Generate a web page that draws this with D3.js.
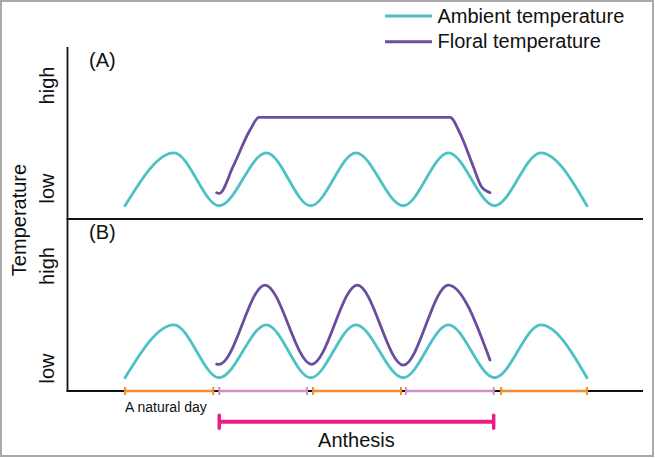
<!DOCTYPE html>
<html><head><meta charset="utf-8">
<script src="https://cdn.jsdelivr.net/npm/d3@7"></script>
<style>body{margin:0;background:#fff}svg{display:block}text{font-family:"Liberation Sans",Arial,sans-serif;fill:#111}</style>
</head><body><svg id="c" width="655" height="458"></svg>
<script>
// ---- data (time in days, temperature in arbitrary units 0-10) ----
const ambientT = [0, 0.53, 1.02, 1.53, 2.01, 2.5, 3.01, 3.5, 4.0, 4.5, 5.0];
const ambientV = [0.77, 3.85, 0.77, 3.85, 0.77, 3.85, 0.77, 3.85, 0.77, 3.85, 0.77];
const floralAT = [0.992, 1.02, 1.169, 1.353, 1.45, 3.517, 3.626, 3.77, 3.86, 3.95];
const floralAV = [1.53, 1.49, 3.04, 5.17, 5.91, 5.91, 4.98, 3.04, 1.86, 1.53];
const floralBT = [0.992, 1.02, 1.515, 2.02, 2.514, 3.012, 3.5, 3.95];
const floralBV = [1.56, 1.55, 6.16, 1.55, 6.16, 1.51, 6.16, 1.8];
const segStart = [0, 1.02, 2.035, 3.04, 4.07];
const segEnd   = [0.955, 1.97, 2.987, 3.99, 5.0];
const segType  = ["day", "anthesis", "day", "anthesis", "day"];
const anthesis = [1.02, 3.99];
const panels = ["(A)", "(B)"];
const yLabels = ["high", "low"];
const legendLabels = ["Ambient temperature", "Floral temperature"];

const COL = {amb:"#4cc2c5", flo:"#6b4d9e", day:"#f28c2e", anth:"#d48fc9", bar:"#ec1c84"};
const svg = d3.select("#c");

// frame
svg.append("rect").attr("x",1).attr("y",1).attr("width",652).attr("height",455)
  .attr("fill","none").attr("stroke","#a9a9a9").attr("stroke-width",2);

const x = d3.scaleLinear().domain([0,5]).range([125,587]);
const yA = d3.scaleLinear().domain([0,10]).range([219,47]);
const yB = d3.scaleLinear().domain([0,10]).range([391,219]);

const line = (ys) => d3.line().x(d=>x(d[0])).y(d=>ys(d[1])).curve(d3.curveMonotoneX);
const zip = (a,b) => a.map((v,i)=>[v,b[i]]);

// axes
const axisX0 = 67.5, axisX1 = 643;
svg.append("line").attr("x1",axisX0).attr("x2",axisX0).attr("y1",47).attr("y2",391.8)
  .attr("stroke","#111").attr("stroke-width",1.8);
svg.append("line").attr("x1",axisX0-0.9).attr("x2",axisX1).attr("y1",yA(0)).attr("y2",yA(0))
  .attr("stroke","#111").attr("stroke-width",1.8);
svg.append("line").attr("x1",axisX0-0.9).attr("x2",axisX1).attr("y1",yB(0)).attr("y2",yB(0))
  .attr("stroke","#111").attr("stroke-width",1.8);

// curves
[[yA, floralAT, floralAV],[yB, floralBT, floralBV]].forEach(([ys,ft,fv])=>{
  svg.append("path").attr("d", line(ys)(zip(ambientT,ambientV)))
    .attr("fill","none").attr("stroke",COL.amb).attr("stroke-width",2.8).attr("stroke-linecap","round");
  svg.append("path").attr("d", line(ys)(zip(ft,fv)))
    .attr("fill","none").attr("stroke",COL.flo).attr("stroke-width",2.8).attr("stroke-linecap","round");
});

// day segments
const segY = yB(0);
segStart.forEach((s,i)=>{
  const c = segType[i]==="day" ? COL.day : COL.anth;
  const g = svg.append("g");
  g.append("line").attr("x1",x(s)).attr("x2",x(segEnd[i])).attr("y1",segY).attr("y2",segY)
    .attr("stroke",c).attr("stroke-width",2.4);
  [s, segEnd[i]].forEach(t=>{
    g.append("line").attr("x1",x(t)).attr("x2",x(t)).attr("y1",segY-4).attr("y2",segY+4)
      .attr("stroke",c).attr("stroke-width",2);
  });
});
svg.append("text").attr("x",x(0)).attr("y",411.5).attr("font-size",14).text("A natural day");

// anthesis bar
const barY = 421.7;
svg.append("line").attr("x1",x(anthesis[0])).attr("x2",x(anthesis[1])).attr("y1",barY).attr("y2",barY)
  .attr("stroke",COL.bar).attr("stroke-width",4);
anthesis.forEach(t=>{
  svg.append("line").attr("x1",x(t)).attr("x2",x(t)).attr("y1",barY-6.5).attr("y2",barY+6.5)
    .attr("stroke",COL.bar).attr("stroke-width",3.5).attr("stroke-linecap","round");
});
svg.append("text").attr("x",(x(anthesis[0])+x(anthesis[1]))/2).attr("y",447).attr("font-size",20)
  .attr("text-anchor","middle").text("Anthesis");

// panel labels
[[yA,59.5],[yB,232]].forEach(([ys,cy],i)=>{
  svg.append("text").attr("x",89).attr("y",cy).attr("dy","0.35em").attr("font-size",20).text(panels[i]);
});

// y labels
[[85.5,188.5],[266,368.5]].forEach(pos=>{
  pos.forEach((cy,j)=>{
    svg.append("text").attr("transform",`translate(53.5,${cy}) rotate(-90)`)
      .attr("text-anchor","middle").attr("font-size",20).text(yLabels[j]);
  });
});
svg.append("text").attr("transform","translate(26,220) rotate(-90)")
  .attr("text-anchor","middle").attr("font-size",20).text("Temperature");

// legend
const lg = [[16,23.3,COL.amb],[41.7,48.3,COL.flo]];
legendLabels.forEach((lab,i)=>{
  svg.append("line").attr("x1",385).attr("x2",432).attr("y1",lg[i][0]).attr("y2",lg[i][0])
    .attr("stroke",lg[i][2]).attr("stroke-width",3);
  svg.append("text").attr("x",437.5).attr("y",lg[i][1]).attr("font-size",20).text(lab);
});
</script></body></html>
